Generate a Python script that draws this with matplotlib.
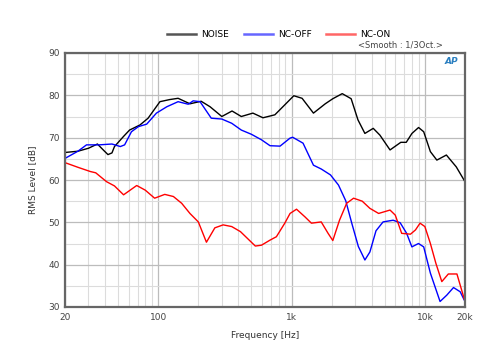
import matplotlib
matplotlib.use("Agg")
import matplotlib.pyplot as plt
from matplotlib.ticker import FixedLocator, NullFormatter


# NOISE
noise_f = [20, 25, 30, 35, 39, 42, 45, 47, 55, 61, 73, 84, 103, 122, 141, 173, 210,
           245, 300, 358, 420, 513, 611, 750, 893, 1040, 1200, 1460, 1790, 2040,
           2400, 2800, 3150, 3550, 4100, 4600, 5480, 6600, 7250, 8000, 8970, 9800,
           11000, 12300, 14500, 17200, 20000]
noise_db = [66.5, 66.8, 67.5, 68.5, 67.0, 66.0, 66.4, 67.9, 70.3, 71.8, 73.0, 74.6,
            78.5, 79.0, 79.3, 78.0, 78.6, 77.3, 75.0, 76.3, 75.0, 75.8, 74.7, 75.4,
            77.8, 79.9, 79.3, 75.8, 78.0, 79.2, 80.4, 79.2, 74.2, 71.0, 72.2, 70.6,
            67.1, 68.9, 68.9, 71.0, 72.4, 71.4, 66.7, 64.7, 65.9, 63.1, 59.6]

# NC-OFF
off_f = [20, 25, 29, 36, 45, 52, 56, 63, 71, 82, 97, 116, 141, 168, 183, 206, 250,
         300, 356, 420, 500, 595, 690, 820, 975, 1020, 1220, 1460, 1670, 1960,
         2250, 2550, 2830, 3170, 3550, 3870, 4300, 4860, 5780, 6530, 7300, 7990,
         8960, 9800, 11000, 13000, 14600, 16400, 18400, 20000]
off_db = [65.1, 66.8, 68.3, 68.3, 68.5, 67.9, 68.3, 71.4, 72.6, 73.2, 75.8, 77.3,
          78.5, 77.9, 78.7, 78.5, 74.6, 74.4, 73.4, 71.8, 70.8, 69.5, 68.1, 68.0,
          69.9, 70.1, 68.7, 63.5, 62.6, 61.2, 58.8, 55.1, 49.8, 44.3, 41.1, 43.0,
          48.0, 50.1, 50.5, 49.9, 47.4, 44.2, 45.0, 44.2, 38.0, 31.3, 32.8, 34.6,
          33.6, 31.3]

# NC-ON
on_f = [20, 25, 31, 34, 41, 47, 55, 69, 80, 94, 112, 130, 150, 173, 200, 230, 266,
        307, 356, 414, 535, 595, 690, 770, 890, 975, 1090, 1260, 1410, 1670, 1880,
        2040, 2290, 2590, 2920, 3390, 3870, 4500, 5480, 6000, 6700, 7800, 8500,
        9200, 10000, 11000, 12100, 13400, 15000, 17400, 20000]
on_db = [64.1, 63.0, 62.0, 61.7, 59.6, 58.6, 56.5, 58.7, 57.6, 55.7, 56.6, 56.1,
         54.5, 52.1, 50.1, 45.3, 48.7, 49.4, 49.0, 47.8, 44.4, 44.6, 45.8, 46.6,
         49.8, 52.1, 53.1, 51.3, 49.8, 50.1, 47.4, 45.7, 50.5, 54.5, 55.7, 55.0,
         53.3, 52.1, 52.9, 51.7, 47.4, 47.2, 48.2, 49.8, 49.0, 45.0, 40.3, 36.0,
         37.8, 37.8, 31.3]

plt.rcParams["font.family"] = ["DejaVu Sans"]
fig = plt.figure(figsize=(5, 3.54), dpi=100)
ax = fig.add_axes([65 / 500, 1 - 307 / 354, 400 / 500, 254 / 354])

ax.plot(noise_f, noise_db, color="black", lw=1.0, label="NOISE")
ax.plot(off_f, off_db, color="#0000ff", lw=1.0, label="NC-OFF")
ax.plot(on_f, on_db, color="#ff0000", lw=1.0, label="NC-ON")

ax.set_xscale("log")
ax.set_xlim(20, 20000)
ax.set_ylim(30, 90)

major_x = [20, 100, 1000, 10000, 20000]
ax.xaxis.set_major_locator(FixedLocator(major_x))
ax.set_xticklabels(["20", "100", "1k", "10k", "20k"])
minor_x = [m * d for d in (10, 100, 1000) for m in range(2, 10)] + [20000]
ax.xaxis.set_minor_locator(FixedLocator(minor_x))
ax.xaxis.set_minor_formatter(NullFormatter())
ax.set_yticks(range(30, 91, 10))
ax.set_yticks(range(35, 90, 10), minor=True)

ax.grid(which="major", color="#bcbcbc", lw=0.9)
ax.grid(which="minor", color="#dcdcdc", lw=0.8)
ax.set_axisbelow(True)
ax.tick_params(which="both", length=0, labelsize=6.5, colors="#444444", pad=4)

for s in ax.spines.values():
    s.set_color("#666666")
    s.set_linewidth(1.6)

ax.set_xlabel("Frequency [Hz]", fontsize=6.5, color="#333333", labelpad=7)
ax.set_ylabel("RMS Level [dB]", fontsize=6.5, color="#333333", labelpad=8)

leg = ax.legend(loc="lower center", bbox_to_anchor=(0.535, 1.04), ncol=3,
                frameon=False, fontsize=6.5, handlelength=3.2, columnspacing=1.6,
                handletextpad=0.6, borderaxespad=0)
for h, c in zip(leg.get_lines(), ["#555555", "#6666ff", "#ff6666"]):
    h.set_color(c)
    h.set_linewidth(1.8)

fig.text(443 / 500, 1 - 45 / 354, "<Smooth : 1/3Oct.>", fontsize=6,
         color="#444444", ha="right", va="center")
ax.text(0.965, 0.965, "AP", transform=ax.transAxes, fontsize=6.5, color="#2a7fc0",
        ha="center", va="center", style="italic", fontweight="bold")

fig.savefig("out.png", dpi=100)
